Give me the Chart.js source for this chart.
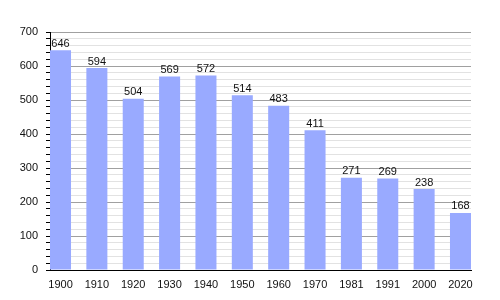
<!DOCTYPE html>
<html><head><meta charset="utf-8">
<script src="https://cdn.jsdelivr.net/npm/chart.js@4"></script>
<style>html,body{margin:0;padding:0;background:#fff}#c{display:block}</style>
</head><body>
<canvas id="c" width="500" height="300"></canvas>
<script>
const years = ["1900","1910","1920","1930","1940","1950","1960","1970","1981","1991","2000","2020"];
const population = [646,594,504,569,572,514,483,411,271,269,238,168];
const yMax = 700;
const yStep = 20;
const yLabelStep = 100;

const FONT = '"Liberation Sans", Arial, sans-serif';
const barFrac = 0.578;          // bar width as a fraction of the slot pitch
const half = barFrac / 2;

const valueLabels = {
  id: 'valueLabels',
  afterDatasetsDraw(chart) {
    const ctx = chart.ctx;
    const meta = chart.getDatasetMeta(0);
    ctx.save();
    ctx.font = '11px ' + FONT;
    ctx.fillStyle = '#111';
    ctx.textAlign = 'center';
    ctx.textBaseline = 'bottom';
    meta.data.forEach((bar, i) => {
      ctx.fillText(String(population[i]), bar.x, bar.y - 1);
    });
    ctx.restore();
  }
};

new Chart(document.getElementById('c'), {
  type: 'bar',
  data: {
    datasets: [{
      data: population.map((v, i) => ({ x: i, y: v })),
      backgroundColor: '#99aaff',
      borderWidth: 0,
      barPercentage: barFrac,
      categoryPercentage: 1.0
    }]
  },
  options: {
    responsive: false,
    animation: false,
    layout: { padding: { left: 0, right: 29, top: 32, bottom: 0 } },
    plugins: { legend: { display: false }, tooltip: { enabled: false } },
    scales: {
      x: {
        type: 'linear',
        min: -half,
        max: years.length - 1 + half,
        offset: false,
        afterBuildTicks(s) { s.ticks = years.map((_, i) => ({ value: i })); },
        afterFit(s) { s.height = 30; },
        grid: { display: false, drawTicks: false },
        border: { display: true, color: '#000', width: 1 },
        ticks: {
          color: '#111', padding: 8, maxRotation: 0, autoSkip: false,
          font: { family: FONT, size: 11 },
          callback: (v) => (years[v] !== undefined) ? years[v] : ''
        }
      },
      y: {
        min: 0, max: yMax,
        afterFit(s) { s.width = 50; },
        grid: {
          color: (c) => (c.tick && c.tick.value % yLabelStep === 0) ? '#a0a0a0' : '#e2e2e2',
          tickColor: '#000',
          tickLength: 4,
          lineWidth: 1
        },
        border: { display: true, color: '#000', width: 1 },
        ticks: {
          stepSize: yStep,
          autoSkip: false,
          color: '#111',
          padding: 8,
          font: { family: FONT, size: 11 },
          callback: (v) => (v % yLabelStep === 0) ? String(v) : ''
        }
      }
    }
  },
  plugins: [valueLabels]
});
</script>
</body></html>
